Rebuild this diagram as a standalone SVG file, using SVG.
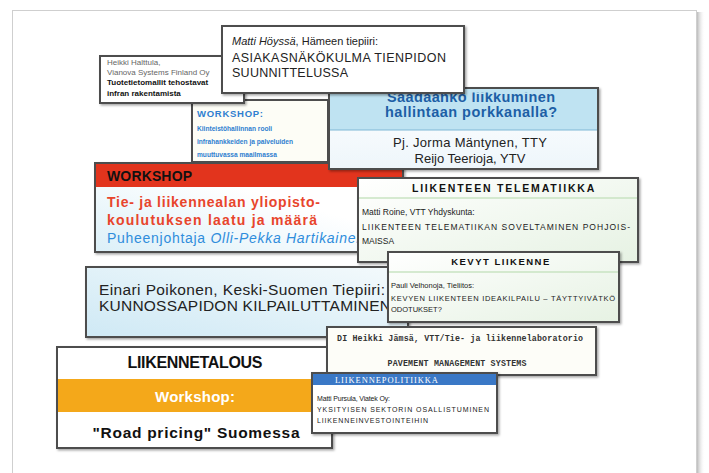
<svg xmlns="http://www.w3.org/2000/svg" width="709" height="473" viewBox="0 0 709 473">
<defs>
<filter id="sh" x="-5%" y="-5%" width="110%" height="115%"><feDropShadow dx="1.5" dy="1.5" stdDeviation="0.8" flood-color="#000" flood-opacity="0.35"/></filter>
<linearGradient id="frameSh" x1="0" x2="1" y1="0" y2="0"><stop offset="0" stop-color="#bbb"/><stop offset="1" stop-color="#fff" stop-opacity="0"/></linearGradient>
<linearGradient id="gBlue" x1="0" x2="1" y1="1" y2="0"><stop offset="0" stop-color="#cfe9f5"/><stop offset="1" stop-color="#f4fafc"/></linearGradient>
<linearGradient id="gRed" x1="0" x2="1" y1="1" y2="0"><stop offset="0" stop-color="#dcf0f8"/><stop offset="0.6" stop-color="#ffffff"/><stop offset="1" stop-color="#ffffff"/></linearGradient>
<linearGradient id="gGreen" x1="0" x2="1" y1="0" y2="1"><stop offset="0" stop-color="#ffffff"/><stop offset="1" stop-color="#e6f2e3"/></linearGradient>
<linearGradient id="gSaad" x1="0" x2="0" y1="0" y2="1"><stop offset="0" stop-color="#ffffff"/><stop offset="1" stop-color="#eef6fb"/></linearGradient>
<clipPath id="saadClip"><rect x="330" y="92.5" width="267" height="40"/></clipPath>
</defs>
<style>
.card{stroke:#4d4d4d;stroke-width:2;filter:url(#sh)}
.sans{font-family:"Liberation Sans",Arial,sans-serif}
.mono{font-family:"Liberation Mono","Courier New",monospace;font-weight:bold}
.serif{font-family:"Liberation Serif","Times New Roman",serif}
.dark{fill:#222}
.b{font-weight:bold}
</style>
<rect width="709" height="473" fill="#ffffff"/>
<rect x="697" y="12" width="8" height="470" fill="url(#frameSh)"/>
<rect x="12.5" y="10.5" width="684" height="475" fill="#ffffff" stroke="#cfcfcf" stroke-width="1"/>

<g id="card-workshop-blue">
<rect class="card" x="192" y="100" width="136" height="62" fill="#fdfdf6"/>
<text class="sans b" x="197" y="117" font-size="9.5" fill="#2f80d0" textLength="66">WORKSHOP:</text>
<text class="sans b" x="197" y="131" font-size="6.6" fill="#2f80d0">Kiinteistöhallinnan rooli</text>
<text class="sans b" x="197" y="144" font-size="6.6" fill="#2f80d0">infrahankkeiden ja palveluiden</text>
<text class="sans b" x="197" y="157" font-size="6.6" fill="#2f80d0">muuttuvassa maailmassa</text>
</g>

<g id="card-halttula">
<rect class="card" x="100" y="56" width="144" height="47" fill="#ffffff"/>
<text class="sans" x="107" y="65" font-size="8" fill="#666">Heikki Halttula,</text>
<text class="sans" x="107" y="75" font-size="8" fill="#666">Vianova Systems Finland Oy</text>
<text class="sans b" x="107" y="85" font-size="8" fill="#111">Tuotetietomallit tehostavat</text>
<text class="sans b" x="107" y="96" font-size="8" fill="#111">infran rakentamista</text>
</g>

<g id="card-workshop-red">
<rect class="card" x="95" y="163" width="308" height="89" fill="url(#gRed)"/>
<rect x="96" y="164" width="306" height="23" fill="#e2341d"/>
<text class="sans b" x="107" y="181" font-size="14" fill="#111" textLength="85">WORKSHOP</text>
<text class="sans b" x="107" y="207" font-size="14" fill="#e8452c" textLength="213">Tie- ja liikennealan yliopisto-</text>
<text class="sans b" x="107" y="225" font-size="14" fill="#e8452c" textLength="210">koulutuksen laatu ja määrä</text>
<text class="sans" x="107" y="243" font-size="14" fill="#2f8ddc" textLength="257">Puheenjohtaja <tspan font-style="italic">Olli-Pekka Hartikainen</tspan></text>
</g>

<g id="card-saadaanko">
<rect class="card" x="329" y="88" width="269" height="81" fill="url(#gSaad)"/>
<rect x="330" y="89" width="267" height="41" fill="#bfe3f2"/>
<line x1="330" y1="130" x2="597" y2="130" stroke="#7fb7d6" stroke-width="1"/>
<text class="sans b" x="471" y="102" font-size="14.5" fill="#1d5fa6" text-anchor="middle" textLength="168" clip-path="url(#saadClip)">Saadaanko liikkuminen</text>
<text class="sans b" x="471" y="117" font-size="14.5" fill="#1d5fa6" text-anchor="middle" textLength="172">hallintaan porkkanalla?</text>
<text class="sans dark" x="470" y="147" font-size="13" text-anchor="middle" textLength="154">Pj. Jorma Mäntynen, TTY</text>
<text class="sans dark" x="470" y="163" font-size="13" text-anchor="middle">Reijo Teerioja, YTV</text>
</g>

<g id="card-hoyssa">
<rect class="card" x="222" y="26" width="242" height="67" fill="#ffffff"/>
<text class="sans dark" x="232" y="45" font-size="11"><tspan font-style="italic">Matti Höyssä</tspan>, Hämeen tiepiiri:</text>
<text class="sans dark" x="232" y="62" font-size="12.5" textLength="214">ASIAKASNÄKÖKULMA TIENPIDON</text>
<text class="sans dark" x="232" y="77" font-size="12.5" textLength="116">SUUNNITTELUSSA</text>
</g>

<g id="card-einari">
<rect class="card" x="86" y="267" width="322" height="70" fill="url(#gBlue)"/>
<text class="sans dark" x="99" y="295" font-size="15.5" textLength="286">Einari Poikonen, Keski-Suomen Tiepiiri:</text>
<text class="sans dark" x="99" y="311" font-size="15.5" textLength="292">KUNNOSSAPIDON KILPAILUTTAMINEN</text>
</g>

<g id="card-telematiikka">
<rect class="card" x="358" y="178" width="280" height="84" fill="url(#gGreen)"/>
<text class="sans b" x="504" y="192" font-size="10.5" fill="#111" text-anchor="middle" letter-spacing="1.8">LIIKENTEEN TELEMATIIKKA</text>
<line x1="359" y1="198" x2="637" y2="198" stroke="#c9e3c2" stroke-width="1.5"/>
<text class="sans dark" x="362" y="215" font-size="8.5">Matti Roine, VTT Yhdyskunta:</text>
<text class="sans dark" x="362" y="230" font-size="8.5" textLength="268">LIIKENTEEN TELEMATIIKAN SOVELTAMINEN POHJOIS-</text>
<text class="sans dark" x="362" y="244" font-size="8.5">MAISSA</text>
</g>

<g id="card-kevyt">
<rect class="card" x="388" y="252" width="231" height="70" fill="url(#gGreen)"/>
<text class="sans b" x="501" y="265" font-size="9.5" fill="#111" text-anchor="middle" letter-spacing="1.5">KEVYT LIIKENNE</text>
<line x1="389" y1="272" x2="618" y2="272" stroke="#c9e3c2" stroke-width="1.5"/>
<text class="sans dark" x="391" y="288" font-size="7.5">Pauli Velhonoja, Tieliitos:</text>
<text class="sans dark" x="391" y="301" font-size="7.5" textLength="224">KEVYEN LIIKENTEEN IDEAKILPAILU – TÄYTTYIVÄTKÖ</text>
<text class="sans dark" x="391" y="312" font-size="7.5">ODOTUKSET?</text>
</g>

<g id="card-liikennetalous">
<rect class="card" x="57" y="347" width="275" height="101" fill="#ffffff"/>
<rect x="58" y="379" width="273" height="33" fill="#f4a81a"/>
<text class="sans b" x="195" y="368" font-size="16" fill="#111" text-anchor="middle" textLength="135">LIIKENNETALOUS</text>
<text class="sans b" x="195" y="402" font-size="15" fill="#ffffff" text-anchor="middle" textLength="80">Workshop:</text>
<text class="sans b" x="196" y="438" font-size="15.5" fill="#111" text-anchor="middle" textLength="207">"Road pricing" Suomessa</text>
</g>

<g id="card-jamsa">
<rect class="card" x="327" y="327" width="269" height="48" fill="#fdfdf8"/>
<text class="mono" x="337" y="341" font-size="8.3" fill="#333" textLength="246">DI Heikki Jämsä, VTT/Tie- ja liikennelaboratorio</text>
<text class="mono" x="457" y="366" font-size="8.3" fill="#333" text-anchor="middle" textLength="139">PAVEMENT MANAGEMENT SYSTEMS</text>
</g>

<g id="card-liikennepolitiikka">
<rect class="card" x="312" y="373" width="185" height="60" fill="#ffffff"/>
<rect x="313" y="374" width="183" height="11" fill="#3a78c6"/>
<text class="serif" x="335" y="383" font-size="8.5" fill="#ffffff" textLength="103">LIIKENNEPOLITIIKKA</text>
<text class="sans dark" x="317" y="401" font-size="7" textLength="73">Matti Pursula, Viatek Oy:</text>
<text class="sans dark" x="317" y="412" font-size="7" textLength="172">YKSITYISEN SEKTORIN OSALLISTUMINEN</text>
<text class="sans dark" x="317" y="423" font-size="7" textLength="111">LIIKENNEINVESTOINTEIHIN</text>
</g>
</svg>
